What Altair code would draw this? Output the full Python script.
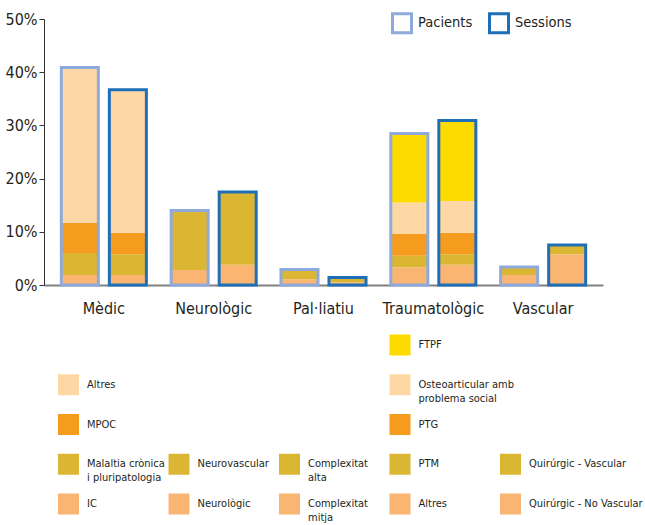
import altair as alt
import pandas as pd

FONT = "Liberation Sans Narrow, DejaVu Sans Condensed, Arial Narrow, sans-serif"
TEXT = "#231f20"

categories = ["Mèdic", "Neurològic", "Pal·liatiu", "Traumatològic", "Vascular"]
series = ["Pacients", "Sessions"]

# one entry per stacked segment, listed bottom to top inside each category
seg_category = [
    "Mèdic", "Mèdic", "Mèdic", "Mèdic",
    "Neurològic", "Neurològic",
    "Pal·liatiu", "Pal·liatiu",
    "Traumatològic", "Traumatològic", "Traumatològic", "Traumatològic", "Traumatològic",
    "Vascular", "Vascular",
]
seg_label = [
    "IC", "Malaltia crònica\ni pluripatologia", "MPOC", "Altres",
    "Neurològic", "Neurovascular",
    "Complexitat\nmitja", "Complexitat\nalta",
    "Altres", "PTM", "PTG", "Osteoarticular amb\nproblema social", "FTPF",
    "Quirúrgic - No Vascular", "Quirúrgic - Vascular",
]
pacients_pct = [1.9, 4.1, 5.7, 29.2, 2.8, 11.2, 1.1, 1.8, 3.3, 2.2, 4.1, 5.9, 13.0, 1.9, 1.5]
sessions_pct = [1.9, 3.9, 4.0, 26.9, 3.8, 13.7, 0.5, 0.9, 3.8, 2.0, 4.0, 6.0, 15.1, 5.8, 1.7]

# fill colour by position in the stack (bottom = 0)
level_colors = ["#fbb573", "#dab632", "#f59c1e", "#fdd8a4", "#fedb00"]
series_colors = ["#8eaadc", "#1f6eb8"]

segments = pd.DataFrame({"category": seg_category, "label": seg_label})
segments["level"] = segments.groupby("category").cumcount()

rows = []
for name, values in zip(series, [pacients_pct, sessions_pct]):
    part = segments.copy()
    part["series"] = name
    part["value"] = values
    rows.append(part)
df = pd.concat(rows, ignore_index=True)

x_enc = alt.X(
    "category:N", sort=categories,
    scale=alt.Scale(paddingInner=0, paddingOuter=0.045),
    axis=alt.Axis(title=None, ticks=False, labelAngle=0, labelFontSize=16,
                  labelFont=FONT, labelColor=TEXT, labelPadding=15,
                  domainColor="#808080", domainWidth=2),
)
xo_enc = alt.XOffset(
    "series:N", sort=series,
    scale=alt.Scale(paddingInner=0.229, paddingOuter=0.258),
)
y_scale = alt.Scale(domain=[0, 50], nice=False)

fills = alt.Chart(df).mark_bar(strokeWidth=0).encode(
    x=x_enc,
    xOffset=xo_enc,
    y=alt.Y("value:Q", stack="zero", scale=y_scale,
            axis=alt.Axis(title=None, values=[0, 10, 20, 30, 40, 50],
                          labelExpr="datum.value + '%'", labelFontSize=16,
                          labelFont=FONT, labelColor=TEXT, labelPadding=2,
                          tickSize=5, tickColor="#333333", domainColor="#333333",
                          domainWidth=1, grid=False)),
    fill=alt.Fill("level:O", scale=alt.Scale(domain=[0, 1, 2, 3, 4], range=level_colors),
                  legend=None),
    order=alt.Order("level:Q", sort="ascending"),
)

# unfilled bar per series drawn over the stack as its frame
outlines = alt.Chart(df).mark_bar(filled=False, strokeWidth=3).encode(
    x=alt.X("category:N", sort=categories),
    xOffset=alt.XOffset("series:N", sort=series),
    y=alt.Y("sum(value):Q", stack=None),
    color=alt.Color(
        "series:N", sort=series,
        scale=alt.Scale(domain=series, range=series_colors),
        legend=alt.Legend(
            title=None, orient="none", legendX=347, legendY=-7,
            direction="horizontal", symbolType="square", symbolSize=361,
            symbolStrokeWidth=3, symbolOpacity=1, labelFontSize=14.5,
            labelFont=FONT, labelColor=TEXT, labelOffset=5, columnPadding=10,
        ),
    ),
)

main = alt.layer(fills, outlines)

# legend grid: one column per category, one row per stack level
legend_rows = segments.copy()
lx = alt.X("category:N", sort=categories, axis=None,
           scale=alt.Scale(type="point", padding=0, range=[24.5, 466.5]))
ly = alt.Y("level:O", axis=None,
           scale=alt.Scale(type="point", padding=0, domain=[4, 3, 2, 1, 0], range=[326, 485]))

swatches = alt.Chart(legend_rows).mark_square(size=441, opacity=1, filled=True).encode(
    x=lx, y=ly,
    fill=alt.Fill("level:O", scale=alt.Scale(domain=[0, 1, 2, 3, 4], range=level_colors),
                  legend=None),
)
labels = alt.Chart(legend_rows).mark_text(
    align="left", baseline="top", dx=18.5, dy=-6, fontSize=11, lineHeight=14,
    lineBreak="\n", font=FONT, color=TEXT,
).encode(x=lx, y=ly, text="label:N")

key = alt.layer(swatches, labels)

chart = alt.layer(main, key).resolve_scale(x="independent", y="independent").properties(
    width=559, height=266,
    autosize=alt.AutoSizeParams(type="none"),
    padding={"left": 44, "top": 19, "right": 42, "bottom": 240},
).configure_view(stroke=None)

chart.save("out.html", embed_options={"renderer": "svg", "actions": False})
